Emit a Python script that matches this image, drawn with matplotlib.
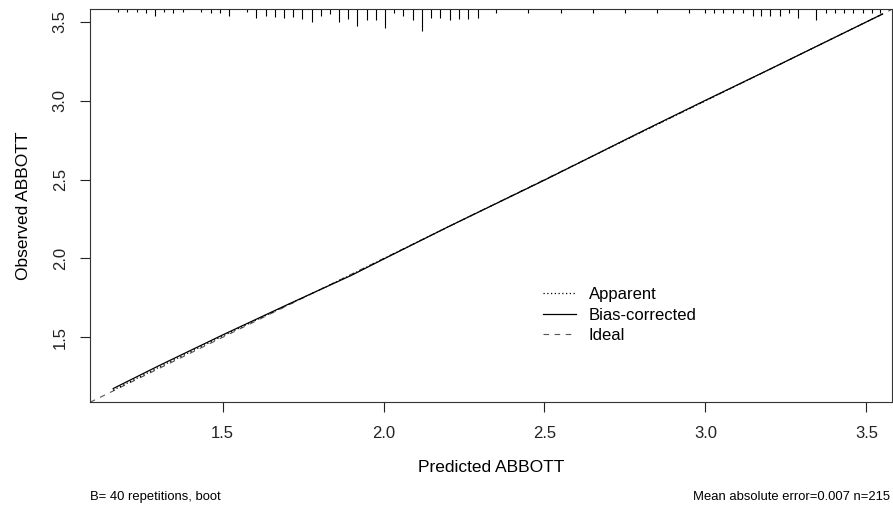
import matplotlib
matplotlib.use('Agg')
import matplotlib.pyplot as plt
from matplotlib.lines import Line2D

plt.rcParams['font.family'] = ['Liberation Sans', 'DejaVu Sans']

# calibration curves (predicted vs observed)
pred = [1.16, 1.30, 1.50, 1.70, 1.90, 2.00, 2.20, 2.50, 2.80, 3.00, 3.20, 3.40, 3.55]
apparent = [1.165, 1.308, 1.508, 1.703, 1.897, 1.998, 2.20, 2.498, 2.80, 3.00, 3.20, 3.40, 3.55]
bias_corrected = [1.175, 1.318, 1.515, 1.706, 1.893, 1.996, 2.20, 2.497, 2.803, 3.003, 3.20, 3.40, 3.55]

# distribution of predicted values (spikes along the top)
rug_x = [1.175, 1.203, 1.233, 1.261, 1.290, 1.318, 1.346, 1.376, 1.433, 1.464,
         1.492, 1.521, 1.577, 1.604, 1.634, 1.663, 1.691, 1.720, 1.748, 1.777,
         1.805, 1.834, 1.862, 1.891, 1.919, 1.948, 1.976, 2.005, 2.033, 2.062,
         2.090, 2.119, 2.147, 2.176, 2.205, 2.233, 2.261, 2.292,
         2.35, 2.45, 2.55, 2.65, 2.75, 2.85, 2.95,
         3.000, 3.028, 3.056, 3.087, 3.118, 3.149, 3.174, 3.202, 3.233, 3.261,
         3.289, 3.345, 3.376, 3.404, 3.432, 3.460, 3.491, 3.519, 3.544]
rug_freq = [2.7, 2.7, 2.7, 3.3, 6.7, 2.7, 3.3, 2.7, 2.7, 3.3,
            3.3, 6.0, 2.0, 8.7, 6.0, 7.7, 8.3, 7.7, 9.3, 12.7,
            6.7, 4.3, 12.7, 9.3, 16.7, 10.0, 10.0, 18.7, 3.3, 6.0,
            10.0, 21.0, 8.7, 8.7, 10.0, 9.3, 9.3, 8.7,
            3, 3, 3, 3, 3, 3, 3,
            3, 3, 3, 3, 3, 6, 6, 6, 6, 3,
            8, 10, 3, 3, 3, 3, 3, 3, 3]

lims = (1.088, 3.579)
xticks = [1.5, 2.0, 2.5, 3.0, 3.5]
yticks = [1.5, 2.0, 2.5, 3.0, 3.5]

fig = plt.figure(figsize=(8.93, 5.08), dpi=100)
ax = fig.add_axes([0.1008, 0.2081, 0.8978, 0.7732])

ax.plot(lims, lims, color='#555555', lw=0.8, linestyle=(0, (5, 5)))
ax.plot(pred, apparent, color='black', lw=0.9, linestyle=(0, (1, 2)))
ax.plot(pred, bias_corrected, color='black', lw=0.9)

maxf = max(rug_freq)
ax.vlines(rug_x, [1 - f / maxf * 0.0535 for f in rug_freq], 1,
          transform=ax.get_xaxis_transform(), color='black', lw=0.8)

ax.set_xlim(lims)
ax.set_ylim(lims)
ax.set_xticks(xticks)
ax.set_xticklabels(['%.1f' % t for t in xticks])
ax.set_yticks(yticks)
ax.set_yticklabels(['%.1f' % t for t in yticks], rotation=90, va='center')
ax.tick_params(length=7, width=0.8, labelsize=12, colors='#222222')
ax.tick_params(axis='x', pad=10)
ax.tick_params(axis='y', pad=9)
for s in ax.spines.values():
    s.set_linewidth(0.8)
    s.set_color('#333333')

ax.set_xlabel('Predicted ABBOTT', fontsize=12.5, labelpad=14)
ax.set_ylabel('Observed ABBOTT', fontsize=12.5, labelpad=16)

handles = [Line2D([], [], color='black', lw=0.9, linestyle=(0, (1, 2))),
           Line2D([], [], color='black', lw=0.9),
           Line2D([], [], color='#555555', lw=0.8, linestyle=(0, (5, 5)))]
ax.legend(handles, ['Apparent', 'Bias-corrected', 'Ideal'], loc='center left',
          bbox_to_anchor=(0.565, 0.222), frameon=False, fontsize=12,
          handlelength=2.0, handletextpad=0.75, labelspacing=0.32,
          borderpad=0, borderaxespad=0)

fig.text(90 / 893, 1 - 497 / 508, 'B= 40 repetitions, boot', fontsize=9.4,
         ha='left', va='center')
fig.text(890 / 893, 1 - 497 / 508, 'Mean absolute error=0.007 n=215', fontsize=9.4,
         ha='right', va='center')

fig.savefig('out.png', dpi=100)
